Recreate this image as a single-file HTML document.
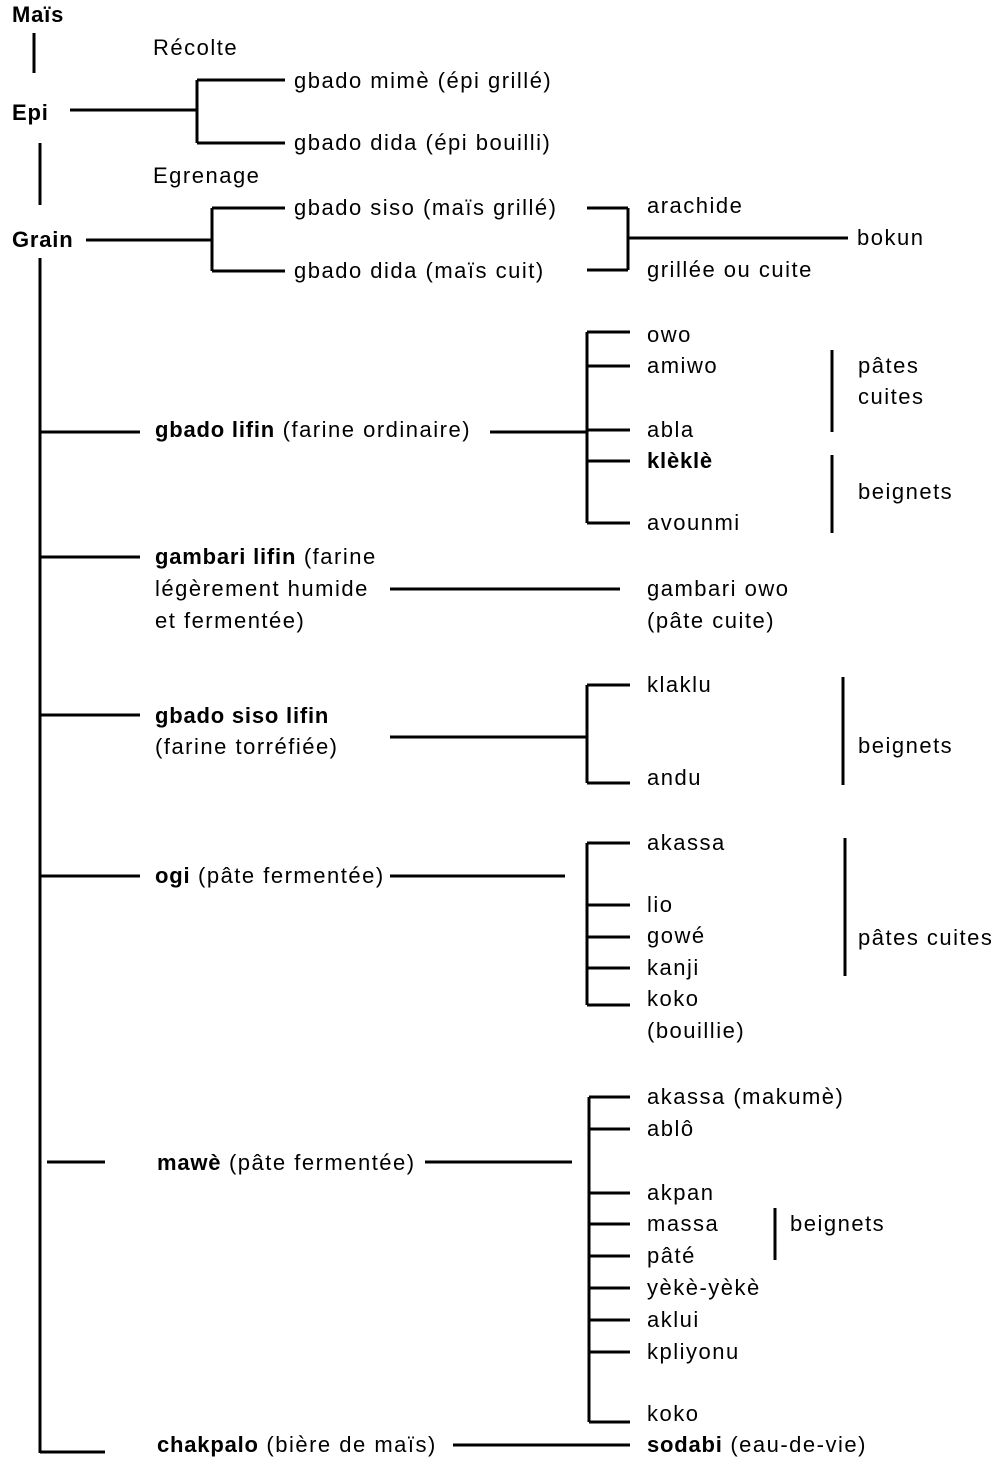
<!DOCTYPE html>
<html><head><meta charset="utf-8"><style>
html,body{margin:0;padding:0;background:#fff;}
svg{display:block;}
text{font-family:"Liberation Sans",sans-serif;font-size:22px;fill:#000;letter-spacing:1.5px;}
.b{font-weight:bold;letter-spacing:0.8px;}
line{stroke:#000;stroke-width:3;}
</style></head><body>
<svg width="1007" height="1473" viewBox="0 0 1007 1473" xmlns="http://www.w3.org/2000/svg">
<text x="12" y="22" class="b">Maïs</text>
<line x1="34" y1="33" x2="34" y2="73"/>
<text x="153" y="55">Récolte</text>
<text x="12" y="120" class="b">Epi</text>
<line x1="70" y1="110" x2="197" y2="110"/>
<line x1="197" y1="80" x2="197" y2="143"/>
<line x1="197" y1="80" x2="285" y2="80"/>
<line x1="197" y1="143" x2="285" y2="143"/>
<text x="294" y="88">gbado mimè (épi grillé)</text>
<text x="294" y="150">gbado dida (épi bouilli)</text>
<line x1="40" y1="143" x2="40" y2="205"/>
<text x="153" y="183">Egrenage</text>
<text x="12" y="247" class="b">Grain</text>
<line x1="86" y1="240" x2="212" y2="240"/>
<line x1="212" y1="208" x2="212" y2="271"/>
<line x1="212" y1="208" x2="285" y2="208"/>
<line x1="212" y1="271" x2="285" y2="271"/>
<text x="294" y="215">gbado siso (maïs grillé)</text>
<text x="294" y="278">gbado dida (maïs cuit)</text>
<line x1="587" y1="208" x2="628" y2="208"/>
<line x1="587" y1="270" x2="628" y2="270"/>
<line x1="628" y1="208" x2="628" y2="270"/>
<line x1="628" y1="238" x2="848" y2="238"/>
<text x="647" y="213">arachide</text>
<text x="647" y="277">grillée ou cuite</text>
<text x="857" y="245">bokun</text>

<line x1="40" y1="258" x2="40" y2="1453"/>
<line x1="40" y1="1452" x2="105" y2="1452"/>

<line x1="40" y1="432" x2="140" y2="432"/>
<text x="155" y="437"><tspan class="b">gbado lifin</tspan> (farine ordinaire)</text>
<line x1="490" y1="432" x2="587" y2="432"/>
<line x1="587" y1="332" x2="587" y2="523"/>
<line x1="587" y1="332" x2="630" y2="332"/>
<line x1="587" y1="366" x2="630" y2="366"/>
<line x1="587" y1="430" x2="630" y2="430"/>
<line x1="587" y1="461" x2="630" y2="461"/>
<line x1="587" y1="523" x2="630" y2="523"/>
<text x="647" y="342">owo</text>
<text x="647" y="373">amiwo</text>
<text x="647" y="437">abla</text>
<text x="647" y="468" class="b">klèklè</text>
<text x="647" y="530">avounmi</text>
<line x1="832" y1="350" x2="832" y2="432"/>
<text x="858" y="373">pâtes</text>
<text x="858" y="404">cuites</text>
<line x1="832" y1="455" x2="832" y2="533"/>
<text x="858" y="499">beignets</text>

<line x1="40" y1="557" x2="140" y2="557"/>
<text x="155" y="564"><tspan class="b">gambari lifin</tspan> (farine</text>
<text x="155" y="596">légèrement humide</text>
<text x="155" y="628">et fermentée)</text>
<line x1="390" y1="589" x2="620" y2="589"/>
<text x="647" y="596">gambari owo</text>
<text x="647" y="628">(pâte cuite)</text>

<line x1="40" y1="715" x2="140" y2="715"/>
<text x="155" y="723" class="b">gbado siso lifin</text>
<text x="155" y="754">(farine torréfiée)</text>
<line x1="390" y1="737" x2="587" y2="737"/>
<line x1="587" y1="685" x2="587" y2="783"/>
<line x1="587" y1="685" x2="630" y2="685"/>
<line x1="587" y1="783" x2="630" y2="783"/>
<text x="647" y="692">klaklu</text>
<text x="647" y="785">andu</text>
<line x1="843" y1="677" x2="843" y2="785"/>
<text x="858" y="753">beignets</text>

<line x1="40" y1="876" x2="140" y2="876"/>
<text x="155" y="883"><tspan class="b">ogi</tspan> (pâte fermentée)</text>
<line x1="390" y1="876" x2="565" y2="876"/>
<line x1="587" y1="843" x2="587" y2="1005"/>
<line x1="587" y1="843" x2="630" y2="843"/>
<line x1="587" y1="905" x2="630" y2="905"/>
<line x1="587" y1="937" x2="630" y2="937"/>
<line x1="587" y1="968" x2="630" y2="968"/>
<line x1="587" y1="1005" x2="630" y2="1005"/>
<text x="647" y="850">akassa</text>
<text x="647" y="912">lio</text>
<text x="647" y="943">gowé</text>
<text x="647" y="975">kanji</text>
<text x="647" y="1006">koko</text>
<text x="647" y="1038">(bouillie)</text>
<line x1="845" y1="838" x2="845" y2="976"/>
<text x="858" y="945">pâtes cuites</text>

<line x1="47" y1="1162" x2="105" y2="1162"/>
<text x="157" y="1170"><tspan class="b">mawè</tspan> (pâte fermentée)</text>
<line x1="425" y1="1162" x2="572" y2="1162"/>
<line x1="589" y1="1097" x2="589" y2="1422"/>
<line x1="589" y1="1097" x2="630" y2="1097"/>
<line x1="589" y1="1129" x2="630" y2="1129"/>
<line x1="589" y1="1193" x2="630" y2="1193"/>
<line x1="589" y1="1224" x2="630" y2="1224"/>
<line x1="589" y1="1256" x2="630" y2="1256"/>
<line x1="589" y1="1288" x2="630" y2="1288"/>
<line x1="589" y1="1320" x2="630" y2="1320"/>
<line x1="589" y1="1352" x2="630" y2="1352"/>
<line x1="589" y1="1422" x2="630" y2="1422"/>
<text x="647" y="1104">akassa (makumè)</text>
<text x="647" y="1136">ablô</text>
<text x="647" y="1200">akpan</text>
<text x="647" y="1231">massa</text>
<text x="647" y="1263">pâté</text>
<text x="647" y="1295">yèkè-yèkè</text>
<text x="647" y="1327">aklui</text>
<text x="647" y="1359">kpliyonu</text>
<text x="647" y="1421">koko</text>
<line x1="775" y1="1208" x2="775" y2="1260"/>
<text x="790" y="1231">beignets</text>

<text x="157" y="1452"><tspan class="b">chakpalo</tspan> (bière de maïs)</text>
<line x1="453" y1="1445" x2="630" y2="1445"/>
<text x="647" y="1452"><tspan class="b">sodabi</tspan> (eau-de-vie)</text>
</svg>
</body></html>
